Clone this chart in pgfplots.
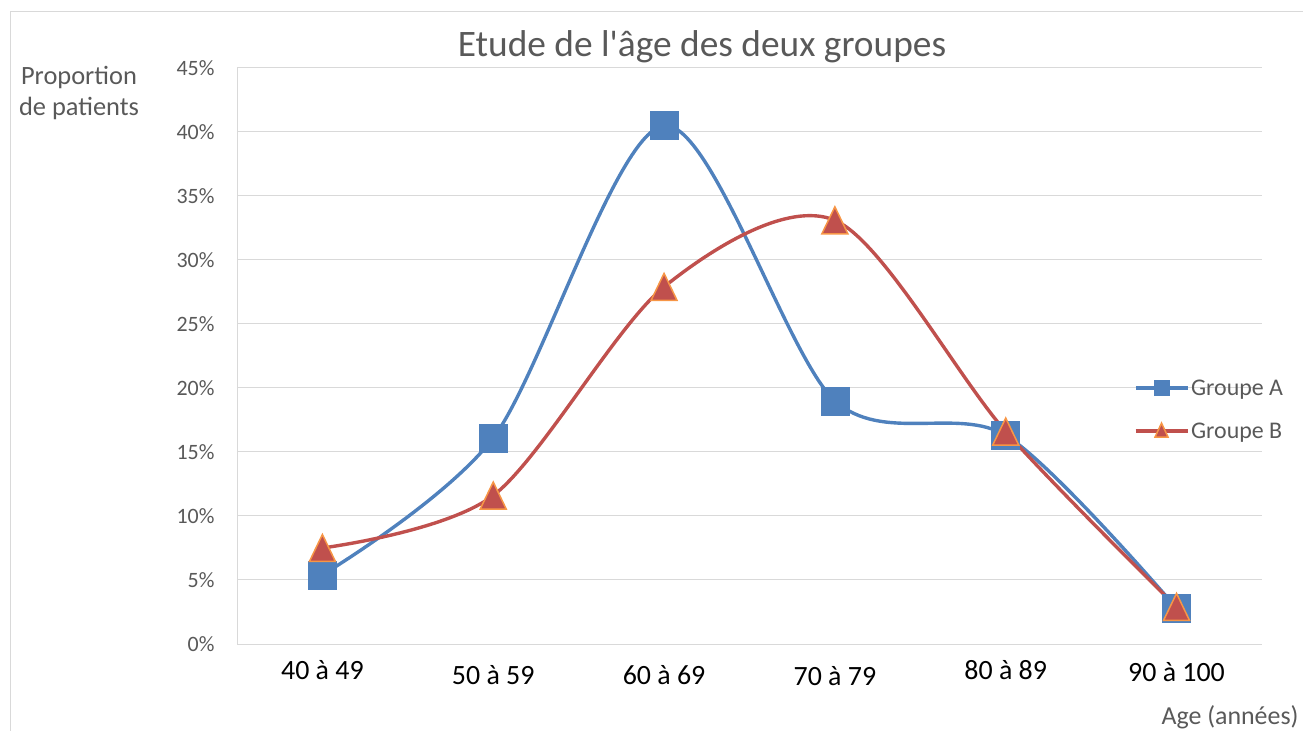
\documentclass[border=0pt]{standalone}
\usepackage{pgfplots}
\pgfplotsset{compat=1.18}
\usepackage{fontspec}
\setmainfont{Carlito}
\newfontfamily\plainfont{Carlito}
\definecolor{grA}{RGB}{79,129,189}
\definecolor{grB}{RGB}{192,80,77}
\definecolor{orB}{RGB}{247,150,70}
\definecolor{gridc}{RGB}{217,217,217}
\definecolor{txt}{RGB}{89,89,89}
\newcommand{\rb}[2]{\raisebox{#1}[\height][\depth]{#2}}
\begin{document}
\begin{tikzpicture}
\path[use as bounding box] (0bp,0bp) rectangle (1303bp,731bp);
\draw[gridc, line width=1bp] (10bp,0bp) -- (10bp,719bp) -- (1303bp,719bp);
\begin{axis}[
  at={(237bp,87bp)}, anchor=south west,
  width=1025bp, height=576bp, scale only axis,
  xmin=-0.5, xmax=5.5, ymin=0, ymax=45,
  xtick={0,1,2,3,4,5},
  xticklabels={\rb{6bp}{40 à 49},\rb{1bp}{50 à 59},\rb{1bp}{60 à 69},70 à 79,\rb{6bp}{80 à 89},\rb{4bp}{90 à 100}},
  ytick={0,5,...,45},
  yticklabel={\pgfmathprintnumber{\tick}\%},
  /pgf/number format/assume math mode=true,
  ymajorgrids, grid style={gridc, line width=1bp},
  axis x line*=bottom, axis y line*=left,
  axis line style={gridc, line width=1bp},
  major tick length=0pt,
  tick style={draw=none},
  yticklabel style={font=\fontsize{22}{26}\selectfont, text=txt, xshift=-19bp},
  xticklabel style={font=\fontsize{28}{30}\selectfont, text=black, yshift=-19bp},
  clip=false,
  legend style={at={(0.872,0.407)}, anchor=west, draw=none, fill=none,
    font=\fontsize{24}{26}\selectfont, text=txt, row sep=22bp,
    /tikz/every even column/.append style={column sep=0bp}},
  legend cell align=left,
]
\addlegendimage{legend image code/.code={\draw[grA, line width=3.2bp] (0bp,0bp) -- (52bp,0bp); \fill[grA] (18.5bp,-7.5bp) rectangle (33.5bp,7.5bp);}}
\addlegendentry{Groupe A}
\addlegendimage{legend image code/.code={\draw[grB, line width=3.2bp] (0bp,0bp) -- (52bp,0bp); \filldraw[fill=grB, draw=orB, line width=1.5bp] (19.5bp,-6bp) -- (32.5bp,-6bp) -- (26bp,8bp) -- cycle;}}
\addlegendentry{Groupe B}
\addplot[grA, line width=3.4bp, smooth, tension=0.5, mark=square*, mark size=14bp, mark options={fill=grA, draw=grA, line width=0.5bp}]
  coordinates {(0,5.4) (1,16.1) (2,40.5) (3,19.0) (4,16.3) (5,2.8)};
\addplot[grB, line width=3.4bp, smooth, tension=0.5, mark=triangle*, mark size=15bp, mark options={fill=grB, draw=orB, line width=1.5bp, yshift=-4.5bp, yscale=1.2}]
  coordinates {(0,7.5) (1,11.6) (2,27.9) (3,33.1) (4,16.6) (5,2.9)};
\end{axis}
\node[text=txt, font=\plainfont\fontsize{37.5}{42}\selectfont] at (702bp,684bp) {Etude de l'âge des deux groupes};
\node[text=txt, font=\fontsize{26.5}{32}\selectfont, align=center] at (79bp,638bp) {Proportion\\de patients};
\node[text=txt, font=\fontsize{26}{28}\selectfont, anchor=east] at (1302bp,14bp) {Age (années)};
\end{tikzpicture}
\end{document}
